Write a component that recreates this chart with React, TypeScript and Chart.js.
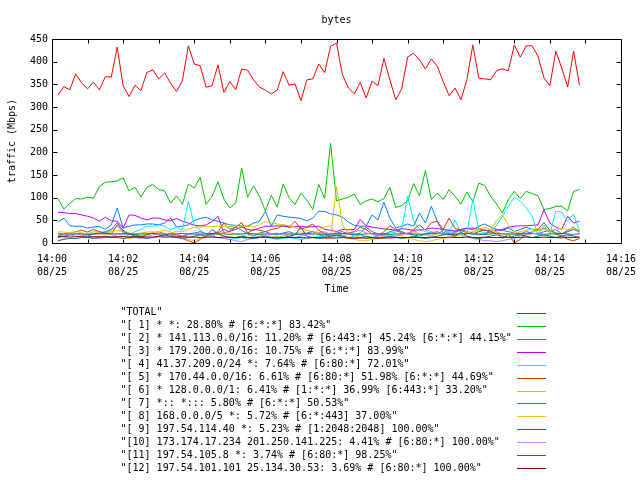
import React, { useEffect, useRef } from 'react';
import { Chart, registerables } from 'chart.js';

Chart.register(...registerables);

const TITLE = 'bytes';
const X_TITLE = 'Time';
const Y_TITLE = 'traffic (Mbps)';
const X_TICK_TIMES = ['14:00', '14:02', '14:04', '14:06', '14:08', '14:10', '14:12', '14:14', '14:16'];
const X_TICK_DATE = '08/25';
const SAMPLE_START_MIN = 10 / 60;
const SAMPLE_STEP_MIN = 10 / 60;

const SERIES_LABELS = [
  '"TOTAL"',
  '"[ 1] * *: 28.80% # [6:*:*] 83.42%"',
  '"[ 2] * 141.113.0.0/16: 11.20% # [6:443:*] 45.24% [6:*:*] 44.15%"',
  '"[ 3] * 179.200.0.0/16: 10.75% # [6:*:*] 83.99%"',
  '"[ 4] 41.37.209.0/24 *: 7.64% # [6:80:*] 72.01%"',
  '"[ 5] * 170.44.0.0/16: 6.61% # [6:80:*] 51.98% [6:*:*] 44.69%"',
  '"[ 6] * 128.0.0.0/1: 6.41% # [1:*:*] 36.99% [6:443:*] 33.20%"',
  '"[ 7] *:: *::: 5.80% # [6:*:*] 50.53%"',
  '"[ 8] 168.0.0.0/5 *: 5.72% # [6:*:443] 37.00%"',
  '"[ 9] 197.54.114.40 *: 5.23% # [1:2048:2048] 100.00%"',
  '"[10] 173.174.17.234 201.250.141.225: 4.41% # [6:80:*] 100.00%"',
  '"[11] 197.54.105.8 *: 3.74% # [6:80:*] 98.25%"',
  '"[12] 197.54.101.101 25.134.30.53: 3.69% # [6:80:*] 100.00%"',
];

const SERIES_COLORS = [
  '#ff0000', '#00c000', '#0080ff', '#c000ff', '#00eeee', '#c04000', '#c8c800',
  '#4169e1', '#ffc020', '#008040', '#c080ff', '#306080', '#8b0000',
];

const TOTAL = [
  326, 345, 338, 373, 353, 340, 355, 338, 367, 366,
  432, 347, 323, 348, 336, 376, 382, 362, 375, 353,
  334, 358, 435, 395, 391, 344, 347, 393, 332, 356,
  338, 384, 381, 360, 344, 337, 329, 337, 378, 348,
  351, 314, 360, 362, 395, 376, 434, 441, 371, 342,
  329, 354, 320, 357, 347, 407, 360, 316, 340, 410,
  419, 404, 384, 406, 390, 356, 325, 342, 316, 360,
  437, 364, 362, 360, 380, 384, 380, 437, 410, 435,
  435, 412, 364, 347, 423, 386, 344, 423, 348,
];
const S1 = [
  98, 75, 87, 98, 97, 101, 99, 125, 134, 135,
  137, 144, 115, 123, 101, 123, 129, 118, 115, 88,
  104, 85, 130, 121, 145, 85, 103, 135, 97, 77,
  88, 165, 101, 126, 103, 71, 105, 79, 130, 100,
  85, 110, 95, 74, 129, 98, 220, 93, 97, 101,
  108, 85, 93, 97, 91, 98, 123, 78, 83, 93,
  131, 104, 160, 96, 110, 96, 118, 103, 86, 112,
  91, 132, 127, 103, 86, 66, 96, 114, 98, 114,
  109, 104, 74, 76, 81, 81, 71, 114, 118,
];
const S2 = [
  46, 55, 38, 37, 37, 33, 35, 37, 30, 40,
  77, 33, 37, 40, 40, 42, 42, 40, 44, 55,
  35, 37, 40, 50, 54, 57, 51, 48, 44, 40,
  39, 38, 37, 44, 48, 70, 37, 62, 59, 57,
  56, 54, 49, 55, 70, 70, 64, 62, 57, 46,
  39, 37, 37, 62, 51, 90, 55, 33, 37, 42,
  37, 66, 44, 81, 48, 22, 29, 26, 29, 33,
  29, 37, 42, 35, 30, 28, 33, 25, 30, 35,
  30, 28, 33, 25, 30, 20, 28, 35, 22,
];
const S3 = [
  68, 67, 65, 65, 62, 59, 55, 48, 57, 49,
  48, 33, 62, 61, 55, 51, 55, 55, 51, 49,
  54, 48, 44, 39, 38, 40, 47, 59, 22, 26,
  30, 35, 30, 28, 33, 37, 37, 38, 37, 35,
  36, 37, 35, 36, 37, 30, 28, 25, 30, 29,
  30, 52, 38, 35, 33, 31, 30, 28, 32, 30,
  28, 29, 30, 33, 32, 30, 28, 26, 30, 32,
  33, 30, 28, 27, 28, 30, 35, 37, 38, 38,
  39, 40, 73, 44, 35, 30, 59, 44, 48,
];
const S4 = [
  4, 10, 18, 20, 22, 20, 25, 24, 22, 28,
  37, 22, 18, 25, 30, 37, 37, 40, 37, 29,
  35, 28, 92, 40, 28, 20, 15, 12, 10, 8,
  10, 12, 8, 10, 12, 15, 10, 8, 10, 12,
  10, 8, 10, 12, 15, 14, 12, 15, 13, 12,
  15, 18, 14, 12, 16, 20, 22, 24, 30, 103,
  48, 30, 25, 22, 20, 28, 22, 51, 20, 22,
  96, 28, 22, 25, 38, 60, 81, 101, 92, 77,
  59, 18, 40, 20, 70, 68, 48, 64, 26,
];
const S5 = [
  15, 20, 22, 25, 28, 24, 30, 25, 22, 20,
  40, 28, 20, 15, 12, 18, 22, 25, 20, 18,
  15, 10, 5, 0, 8, 15, 20, 25, 44, 30,
  35, 45, 22, 30, 28, 25, 30, 32, 40, 35,
  48, 30, 35, 42, 28, 22, 15, 18, 20, 22,
  25, 35, 30, 20, 15, 25, 38, 30, 25, 20,
  30, 40, 28, 45, 48, 30, 55, 32, 28, 22,
  20, 25, 30, 22, 25, 10, 20, 0, 8, 20,
  25, 30, 45, 28, 20, 15, 8, 5, 10,
];
const S6 = [
  22, 20, 18, 15, 15, 18, 20, 22, 20, 25,
  28, 25, 22, 20, 22, 24, 25, 22, 20, 22,
  25, 25, 30, 35, 35, 36, 36, 37, 37, 36,
  38, 37, 37, 35, 40, 47, 45, 42, 40, 38,
  35, 30, 28, 25, 22, 20, 12, 125, 40, 20,
  15, 12, 10, 10, 12, 15, 18, 15, 20, 22,
  25, 20, 18, 15, 20, 22, 18, 15, 12, 20,
  25, 30, 35, 28, 50, 62, 40, 25, 22, 20,
  25, 28, 30, 25, 22, 20, 25, 30, 28,
];
const S7 = [
  12, 15, 18, 20, 18, 15, 20, 22, 25, 30,
  45, 25, 20, 18, 15, 20, 22, 18, 15, 20,
  18, 15, 20, 22, 25, 20, 18, 22, 30, 25,
  35, 28, 20, 15, 22, 25, 20, 18, 22, 25,
  20, 18, 22, 25, 18, 15, 20, 22, 25, 20,
  18, 22, 35, 25, 20, 18, 25, 28, 22, 20,
  18, 15, 20, 22, 25, 20, 18, 22, 30, 25,
  22, 18, 20, 25, 30, 28, 25, 22, 20, 25,
  22, 20, 25, 28, 22, 20, 25, 30, 25,
];
const S8 = [
  25, 24, 22, 25, 22, 20, 25, 22, 18, 20,
  22, 15, 10, 12, 15, 20, 22, 25, 28, 25,
  15, 10, 8, 5, 10, 12, 15, 20, 25, 22,
  20, 18, 15, 20, 22, 18, 15, 12, 15, 20,
  22, 25, 20, 18, 30, 35, 38, 20, 15, 10,
  8, 5, 5, 8, 10, 12, 15, 18, 15, 10,
  8, 5, 3, 5, 8, 10, 12, 15, 18, 25,
  20, 30, 35, 30, 25, 20, 18, 22, 25, 28,
  30, 32, 30, 28, 30, 32, 30, 33, 32,
];
const S9 = [
  20, 19, 20, 21, 20, 19, 20, 20, 21, 20,
  20, 21, 20, 19, 20, 20, 21, 20, 19, 20,
  20, 21, 20, 20, 19, 20, 21, 20, 20, 19,
  20, 20, 21, 20, 19, 20, 20, 21, 20, 20,
  19, 20, 21, 20, 20, 19, 20, 20, 21, 20,
  20, 19, 20, 21, 20, 20, 19, 20, 20, 21,
  20, 19, 20, 20, 21, 20, 20, 19, 20, 21,
  20, 20, 19, 20, 21, 20, 20, 19, 20, 20,
  21, 20, 19, 20, 20, 21, 20, 19, 20,
];
const S10 = [
  15, 18, 20, 22, 18, 15, 12, 10, 12, 15,
  18, 20, 15, 12, 10, 15, 18, 20, 22, 18,
  15, 12, 18, 20, 22, 18, 15, 12, 10, 8,
  5, 3, 8, 12, 15, 18, 20, 22, 18, 15,
  12, 15, 18, 20, 22, 25, 20, 18, 15, 20,
  25, 28, 22, 20, 18, 15, 12, 15, 18, 22,
  25, 28, 30, 25, 22, 20, 25, 22, 18, 15,
  10, 8, 5, 5, 3, 5, 8, 10, 15, 18,
  20, 22, 18, 15, 12, 10, 15, 18, 20,
];
const S11 = [
  5, 8, 10, 10, 12, 12, 10, 12, 15, 12,
  12, 10, 12, 15, 12, 10, 12, 15, 18, 15,
  12, 10, 12, 15, 18, 15, 30, 20, 15, 12,
  12, 15, 12, 10, 12, 15, 12, 10, 12, 15,
  18, 35, 15, 12, 10, 12, 15, 18, 15, 12,
  10, 12, 15, 12, 10, 12, 15, 12, 10, 12,
  15, 12, 10, 12, 15, 18, 20, 15, 25, 15,
  12, 10, 12, 15, 18, 15, 12, 15, 18, 15,
  12, 15, 18, 15, 12, 15, 18, 15, 12,
];
const S12 = [
  14, 14, 13, 14, 14, 13, 14, 14, 13, 13,
  14, 14, 13, 13, 14, 13, 13, 14, 13, 13,
  13, 14, 13, 13, 12, 13, 13, 12, 13, 13,
  12, 13, 12, 12, 13, 12, 12, 13, 12, 12,
  12, 12, 11, 12, 12, 11, 11, 11, 12, 11,
  11, 11, 11, 12, 11, 11, 11, 12, 12, 12,
  12, 12, 12, 13, 12, 12, 13, 12, 12, 13,
  12, 12, 13, 12, 12, 12, 13, 12, 12, 13,
  12, 12, 13, 12, 12, 13, 12, 12, 13,
];

const SERIES_VALUES = [TOTAL, S1, S2, S3, S4, S5, S6, S7, S8, S9, S10, S11, S12];

const FONT = '"DejaVu Sans Mono", monospace';

const framePlugin = {
  id: 'gnuplotFrame',
  afterDraw(chart: any) {
    const { ctx, chartArea } = chart;
    const xs = chart.scales.x;
    const ys = chart.scales.y;
    const L = chartArea.left + 0.5;
    const R = chartArea.right + 0.5;
    const T = chartArea.top + 0.5;
    const B = chartArea.bottom + 0.5;
    ctx.save();
    ctx.strokeStyle = '#000';
    ctx.lineWidth = 1;
    ctx.beginPath();
    ctx.rect(L, T, R - L, B - T);
    for (let m = 0; m <= 16; m++) {
      const x = Math.round(xs.getPixelForValue(m)) + 0.5;
      ctx.moveTo(x, B);
      ctx.lineTo(x, B - 4);
      ctx.moveTo(x, T);
      ctx.lineTo(x, T + 4);
    }
    for (let v = 0; v <= 450; v += 50) {
      const y = Math.round(ys.getPixelForValue(v)) + 0.5;
      ctx.moveTo(L, y);
      ctx.lineTo(L + 5, y);
      ctx.moveTo(R, y);
      ctx.lineTo(R - 5, y);
    }
    ctx.stroke();

    ctx.fillStyle = '#000';
    ctx.font = '10px ' + FONT;
    ctx.textBaseline = 'middle';
    ctx.textAlign = 'center';
    const cx = (chartArea.left + chartArea.right) / 2;
    ctx.fillText(TITLE, cx, 20);
    ctx.fillText(X_TITLE, cx, 289);
    ctx.save();
    ctx.translate(12, (chartArea.top + chartArea.bottom) / 2);
    ctx.rotate(-Math.PI / 2);
    ctx.fillText(Y_TITLE, 0, 0);
    ctx.restore();

    ctx.textAlign = 'left';
    chart.data.datasets.forEach((ds: any, i: number) => {
      const y = 312.8 + 12.95 * i;
      ctx.fillStyle = '#000';
      ctx.fillText(ds.label, 120.5, y);
      ctx.strokeStyle = ds.borderColor;
      ctx.beginPath();
      const ly = Math.round(y) + 0.5;
      ctx.moveTo(517, ly);
      ctx.lineTo(546, ly);
      ctx.stroke();
    });
    ctx.restore();
  },
};

export default function App() {
  const canvasRef = useRef<HTMLCanvasElement | null>(null);

  useEffect(() => {
    document.body.style.margin = '0';
    const canvas = canvasRef.current;
    if (!canvas) return;
    const n = SERIES_VALUES.length;
    const datasets = SERIES_VALUES.map((vals, i) => ({
      label: SERIES_LABELS[i],
      data: vals.map((v, k) => ({ x: SAMPLE_START_MIN + k * SAMPLE_STEP_MIN, y: v })),
      borderColor: SERIES_COLORS[i],
      backgroundColor: SERIES_COLORS[i],
      borderWidth: 1,
      pointRadius: 0,
      tension: 0,
      fill: false,
      order: n - 1 - i,
    }));
    const chart = new Chart(canvas, {
      type: 'line',
      data: { datasets },
      options: {
        animation: false,
        responsive: false,
        devicePixelRatio: 1,
        layout: { padding: { top: 39, right: 19, left: 0, bottom: 0 } },
        plugins: {
          legend: { display: false },
          title: { display: false },
          tooltip: { enabled: false },
        },
        scales: {
          x: {
            type: 'linear',
            min: 0,
            max: 16,
            grid: { display: false, drawTicks: true, tickLength: 7 },
            border: { display: false },
            afterFit: (s: any) => { s.height = 237; },
            ticks: {
              stepSize: 2,
              autoSkip: false,
              maxRotation: 0,
              padding: 3,
              color: '#000',
              font: { family: FONT, size: 10, lineHeight: 1.3 },
              callback: (value: any) => {
                const idx = Math.round(Number(value) / 2);
                return [X_TICK_TIMES[idx], X_TICK_DATE];
              },
            },
          },
          y: {
            type: 'linear',
            min: 0,
            max: 450,
            grid: { display: false, drawTicks: false },
            border: { display: false },
            afterFit: (s: any) => { s.width = 52; },
            ticks: {
              stepSize: 50,
              padding: 4,
              color: '#000',
              font: { family: FONT, size: 10 },
            },
          },
        },
      },
      plugins: [framePlugin],
    });
    return () => chart.destroy();
  }, []);

  return (
    <div style={{ width: 640, height: 480 }}>
      <canvas ref={canvasRef} width={640} height={480} />
    </div>
  );
}
